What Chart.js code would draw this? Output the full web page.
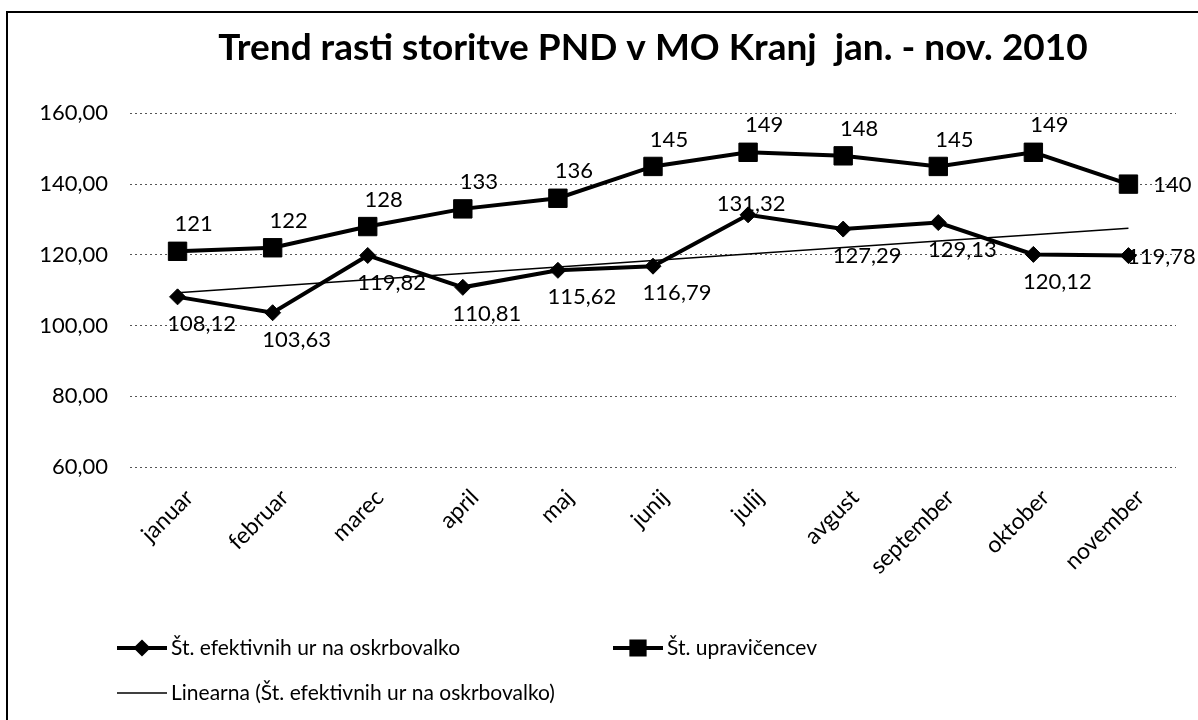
<!DOCTYPE html>
<html>
<head>
<meta charset="utf-8">
<script src="https://cdn.jsdelivr.net/npm/chart.js@4.4.0/dist/chart.umd.min.js"></script>
<style>
  html, body { margin: 0; padding: 0; background: #fff; }
  #wrap { position: absolute; left: 0; top: 0; width: 1198px; height: 720px; }
  #frame { position: absolute; left: 6px; top: 11px; width: 1300px; height: 800px;
           border-left: 2px solid #000; border-top: 2px solid #000; pointer-events: none; }
</style>
</head>
<body>
<div id="wrap">
  <canvas id="trendchart"></canvas>
  <div id="frame"></div>
</div>
<script>
const months = ['januar', 'februar', 'marec', 'april', 'maj', 'junij', 'julij', 'avgust', 'september', 'oktober', 'november'];
const efektivneUre = [108.12, 103.63, 119.82, 110.81, 115.62, 116.79, 131.32, 127.29, 129.13, 120.12, 119.78];
const upravicenci = [121, 122, 128, 133, 136, 145, 149, 148, 145, 149, 140];
const yMin = 60;
const yMax = 160;
const yStep = 20;

const FONT = 'Lato, Carlito, Calibri, sans-serif';

// linearni trend (najmanjsi kvadrati) za st. efektivnih ur
function linearTrend(values) {
    const n = values.length;
    const mx = (n - 1) / 2;
    const my = values.reduce((a, b) => a + b, 0) / n;
    let sxy = 0, sxx = 0;
    for (let i = 0; i < n; i++) {
        sxy += (i - mx) * (values[i] - my);
        sxx += (i - mx) * (i - mx);
    }
    const k = sxy / sxx;
    return values.map((v, i) => my + k * (i - mx));
}

const fmtDec = v => v.toFixed(2).replace('.', ',');

const pointLabels = {
    id: 'pointLabels',
    beforeDatasetsDraw(chart) {
        const ctx = chart.ctx;
        ctx.save();
        ctx.font = '22px ' + FONT;
        ctx.fillStyle = '#000';
        ctx.textAlign = 'center';
        ctx.textBaseline = 'middle';
        chart.data.datasets.forEach((ds, di) => {
            const opt = ds.valueLabels;
            if (!opt) return;
            const meta = chart.getDatasetMeta(di);
            const last = ds.data.length - 1;
            const maxV = Math.max(...ds.data);
            meta.data.forEach((pt, i) => {
                let dx = opt.dx, dy = opt.dy;
                if (i === last) { dx = opt.lastDx; dy = 1; }
                else if (opt.maxAbove && ds.data[i] === maxV) { dx = 3; dy = -11; }
                ctx.fillText(opt.format(ds.data[i]), pt.x + dx, pt.y + dy);
            });
        });
        ctx.restore();
    }
};

const bottomLegend = {
    id: 'bottomLegend',
    afterDraw(chart) {
        const ctx = chart.ctx;
        const items = [
            { ds: 0, x: 117, y: 648 },
            { ds: 1, x: 613, y: 648 },
            { ds: 2, x: 117, y: 693 }
        ];
        ctx.save();
        items.forEach(it => {
            const ds = chart.data.datasets[it.ds];
            ctx.strokeStyle = '#000';
            ctx.lineWidth = ds.borderWidth;
            ctx.beginPath();
            ctx.moveTo(it.x, it.y);
            ctx.lineTo(it.x + 50, it.y);
            ctx.stroke();
            if (ds.pointRadius > 0) {
                ctx.fillStyle = '#000';
                Chart.helpers.drawPoint(ctx, {
                    pointStyle: ds.pointStyle,
                    radius: ds.pointRadius * 0.72,
                    borderWidth: 1,
                    rotation: 0
                }, it.x + 25, it.y);
            }
            ctx.fillStyle = '#000';
            ctx.font = '21px ' + FONT;
            ctx.textAlign = 'left';
            ctx.textBaseline = 'middle';
            ctx.fillText(ds.label, it.x + 54, it.y);
        });
        ctx.restore();
    }
};

const ctx = document.getElementById('trendchart').getContext('2d');
const trendChart = new Chart(ctx, {
    type: 'line',
    data: {
        labels: months,
        datasets: [
            {
                label: 'Št. efektivnih ur na oskrbovalko',
                data: efektivneUre,
                borderColor: '#000',
                backgroundColor: '#000',
                borderWidth: 4,
                pointStyle: 'rectRot',
                pointRadius: 8,
                pointBorderWidth: 1,
                tension: 0,
                valueLabels: { format: fmtDec, dx: 24, dy: 27, lastDx: 33, maxAbove: true }
            },
            {
                label: 'Št. upravičencev',
                data: upravicenci,
                borderColor: '#000',
                backgroundColor: '#000',
                borderWidth: 4,
                pointStyle: 'rect',
                pointRadius: 13,
                pointBorderWidth: 1,
                tension: 0,
                valueLabels: { format: v => String(v), dx: 16, dy: -27, lastDx: 44 }
            },
            {
                label: 'Linearna (Št. efektivnih ur na oskrbovalko)',
                data: linearTrend(efektivneUre),
                borderColor: '#000',
                borderWidth: 1.5,
                pointRadius: 0,
                tension: 0
            }
        ]
    },
    options: {
        responsive: true,
        maintainAspectRatio: false,
        animation: false,
        layout: { padding: { left: 0, right: 22, top: 0, bottom: 0 } },
        plugins: {
            legend: { display: false },
            tooltip: { enabled: false },
            title: {
                display: true,
                fullSize: false,
                text: 'Trend rasti storitve PND v MO Kranj  jan. - nov. 2010',
                color: '#000',
                font: { family: FONT, size: 37, weight: 'bold' },
                padding: { top: 26, bottom: 43 }
            }
        },
        scales: {
            x: {
                offset: true,
                grid: { display: false },
                border: { display: false },
                ticks: {
                    color: '#000',
                    font: { family: FONT, size: 23 },
                    maxRotation: 45,
                    minRotation: 45,
                    autoSkip: false,
                    labelOffset: 12,
                    padding: 9
                },
                afterFit: s => { s.height = 253; }
            },
            y: {
                min: yMin,
                max: yMax,
                grid: { color: '#555', lineWidth: 1, drawTicks: false },
                border: { display: false, dash: [2, 3] },
                ticks: {
                    stepSize: yStep,
                    color: '#000',
                    font: { family: FONT, size: 22 },
                    padding: 22,
                    callback: v => fmtDec(v)
                },
                afterFit: s => { s.width = 130; }
            }
        }
    },
    plugins: [pointLabels, bottomLegend]
});
</script>
</body>
</html>
